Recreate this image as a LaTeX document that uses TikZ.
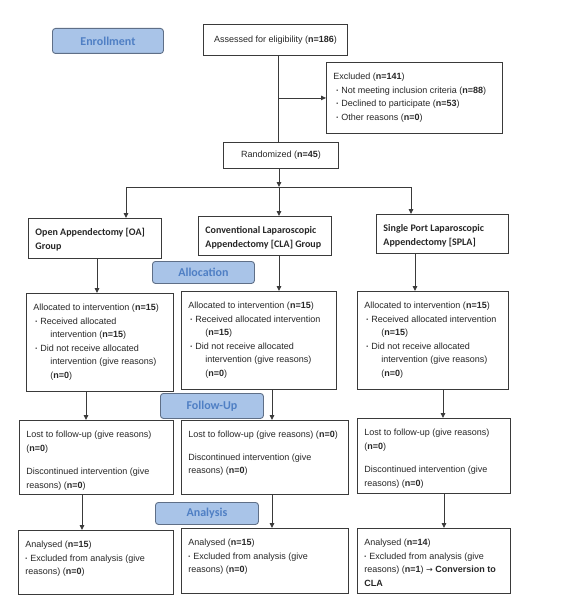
\documentclass[tikz,border=0pt]{standalone}
\usepackage{fontspec}
\setmainfont{Liberation Sans}
\newfontfamily\calb{Carlito}
\newfontfamily\djv{DejaVu Sans}
\usetikzlibrary{arrows.meta}
\definecolor{phfill}{HTML}{A9C4E8}
\definecolor{phdraw}{HTML}{5F6F87}
\definecolor{phtext}{HTML}{4F7FC4}
\definecolor{ink}{HTML}{262626}
\definecolor{lin}{HTML}{3A3A3A}
\newlength\bxw
\newlength\bxh
\newcommand\bul{\raisebox{0.2ex}{\scalebox{0.6}{\textbullet}}\hspace{3pt}}
\newcommand\nb[1]{\textbf{#1}}
% name x1 y1 x2 y2 content
\newcommand\fbx[6]{%
  \pgfmathsetlength\bxw{#4-#2-14}%
  \pgfmathsetlength\bxh{#5-#3}%
  \node[fbox] (#1) at (#2,#3) {\parbox[c][\bxh][t]{\bxw}{\raggedright\rule{0pt}{17pt}#6}};}
\newcommand\gbx[6]{%
  \pgfmathsetlength\bxw{#4-#2-14}%
  \pgfmathsetlength\bxh{#5-#3}%
  \node[fbox] (#1) at (#2,#3) {\parbox[c][\bxh][t]{\bxw}{\raggedright\calb\bfseries\fontsize{10}{14}\selectfont\rule{0pt}{17pt}#6}};}
\begin{document}
\begin{tikzpicture}[x=1pt,y=-1pt,
  fbox/.style={draw=lin,line width=0.9pt,anchor=north west,inner xsep=7pt,inner ysep=0pt,
    text=ink,font=\fontsize{9}{13.6}\selectfont},
  cbox/.style={draw=lin,line width=0.9pt,anchor=north west,inner sep=0pt,text=ink,
    font=\fontsize{9}{13.6}\selectfont},
  phase/.style={draw=phdraw,fill=phfill,rounded corners=3pt,line width=0.9pt,anchor=north west,
    inner sep=0pt,text=phtext,font=\calb\bfseries\fontsize{12}{14}\selectfont},
  ln/.style={draw=lin,line width=0.9pt},
  arr/.style={ln,-{Triangle[length=5pt,width=4.5pt]}}]
\useasboundingbox (0,0) rectangle (566,610);

% phase labels
\node[phase,minimum width=111pt,minimum height=25pt] (enr) at (52,28) {Enrollment};
\node[phase,minimum width=102pt,minimum height=22pt] (alc) at (152,261) {Allocation};
\node[phase,minimum width=103pt,minimum height=25pt] (fup) at (160,393) {Follow-Up};
\node[phase,minimum width=103pt,minimum height=22pt] (ana) at (155,502) {Analysis};

% enrollment
\node[cbox,minimum width=144pt,minimum height=31pt] (ass) at (203,24) {Assessed for eligibility (\nb{n=186})};
\fbx{exc}{326}{62}{502}{133}{Excluded (\nb{n=141})\\
  \hspace*{3pt}\bul Not meeting inclusion criteria (\nb{n=88})\\
  \hspace*{3pt}\bul Declined to participate (\nb{n=53})\\
  \hspace*{3pt}\bul Other reasons (\nb{n=0})}
\node[cbox,minimum width=115pt,minimum height=26pt] (rnd) at (223,142) {Randomized (\nb{n=45})};

% groups
\gbx{goa}{28}{218}{161}{258}{Open Appendectomy [OA]\\Group}
\gbx{gcla}{198}{216}{331}{255}{Conventional Laparoscopic\\Appendectomy [CLA] Group}
\gbx{gspla}{376}{214}{508}{253}{Single Port Laparoscopic\\Appendectomy [SPLA]}

% allocation
\fbx{aoa}{26}{293}{173}{391}{Allocated to intervention (\nb{n=15})\\
  \hspace*{2pt}\bul Received allocated\\
  \hspace*{17pt}intervention (\nb{n=15})\\
  \hspace*{2pt}\bul Did not receive allocated\\
  \hspace*{17pt}intervention (give reasons)\\
  \hspace*{17pt}(\nb{n=0})}
\fbx{acla}{181}{291}{336}{389}{Allocated to intervention (\nb{n=15})\\
  \hspace*{2pt}\bul Received allocated intervention\\
  \hspace*{17pt}(\nb{n=15})\\
  \hspace*{2pt}\bul Did not receive allocated\\
  \hspace*{17pt}intervention (give reasons)\\
  \hspace*{17pt}(\nb{n=0})}
\fbx{aspla}{357}{291}{508}{389}{Allocated to intervention (\nb{n=15})\\
  \hspace*{2pt}\bul Received allocated intervention\\
  \hspace*{17pt}(\nb{n=15})\\
  \hspace*{2pt}\bul Did not receive allocated\\
  \hspace*{17pt}intervention (give reasons)\\
  \hspace*{17pt}(\nb{n=0})}

% follow-up
\fbx{foa}{19}{420}{173}{494}{Lost to follow-up (give reasons)\\(\nb{n=0})\\[10pt]
  Discontinued intervention (give\\reasons) (\nb{n=0})}
\fbx{fcla}{181}{420}{348}{494}{Lost to follow-up (give reasons) (\nb{n=0})\\[9pt]
  Discontinued intervention (give\\reasons) (\nb{n=0})}
\fbx{fspla}{357}{418}{510}{493}{Lost to follow-up (give reasons)\\(\nb{n=0})\\[10pt]
  Discontinued intervention (give\\reasons) (\nb{n=0})}

% analysis
\fbx{noa}{18}{530}{173}{594}{Analysed (\nb{n=15})\\
  \bul Excluded from analysis (give\\reasons) (\nb{n=0})}
\fbx{ncla}{181}{528}{348}{593}{Analysed (\nb{n=15})\\
  \bul Excluded from analysis (give\\reasons) (\nb{n=0})}
\fbx{nspla}{357}{528}{510}{593}{Analysed (\nb{n=14})\\
  \bul Excluded from analysis (give\\reasons) (\nb{n=1}) {\djv\fontsize{8}{13.6}\selectfont →} \nb{Conversion to}\\\nb{CLA}}

% connectors
\coordinate (v0) at (278,0);
\coordinate (jl) at (126,187);
\coordinate (jn) at (279,187);
\coordinate (jr) at (411,187);
\draw[ln] (ass.south -| v0) -- (rnd.north -| v0);
\draw[arr] (v0 |- exc.west) -- (exc.west);
\draw[arr] (rnd.south -| jn) -- (jn);
\draw[ln] (jl) -- (jr);
\draw[arr] (jl) -- (goa.north -| jl);
\draw[arr] (jn) -- (gcla.north -| jn);
\draw[arr] (jr) -- (gspla.north -| jr);

\coordinate (c1) at (97,0);
\coordinate (c2) at (279,0);
\coordinate (c3) at (415,0);
\draw[arr] (goa.south -| c1) -- (aoa.north -| c1);
\draw[arr] (gcla.south -| c2) -- (acla.north -| c2);
\draw[arr] (gspla.south -| c3) -- (aspla.north -| c3);

\coordinate (d1) at (86,0);
\coordinate (d2) at (272,0);
\coordinate (d3) at (443,0);
\draw[arr] (aoa.south -| d1) -- (foa.north -| d1);
\draw[arr] (acla.south -| d2) -- (fcla.north -| d2);
\draw[arr] (aspla.south -| d3) -- (fspla.north -| d3);

\coordinate (e1) at (82,0);
\coordinate (e2) at (272,0);
\coordinate (e3) at (444,0);
\draw[arr] (foa.south -| e1) -- (noa.north -| e1);
\draw[arr] (fcla.south -| e2) -- (ncla.north -| e2);
\draw[arr] (fspla.south -| e3) -- (nspla.north -| e3);
\end{tikzpicture}
\end{document}
